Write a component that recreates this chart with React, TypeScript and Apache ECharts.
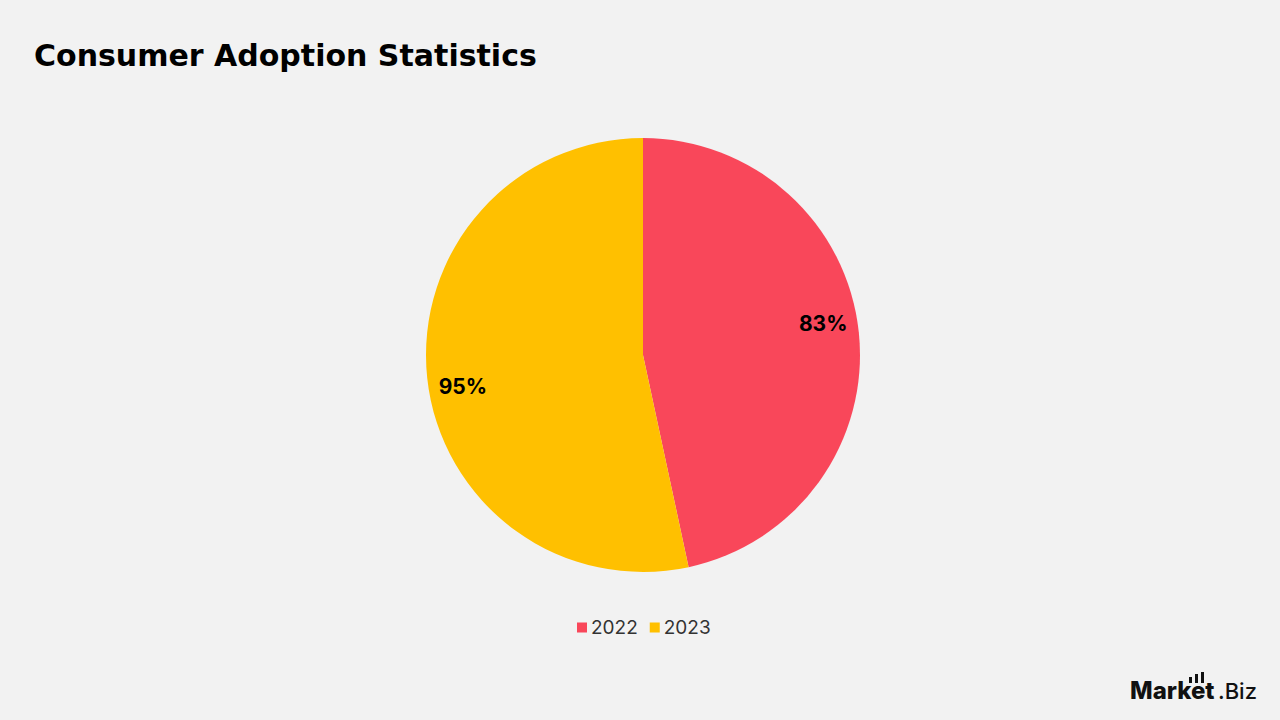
import React, { useEffect, useRef } from "react";
import * as echarts from "echarts";

const categories = ["2022", "2023"];
const values = [83, 95];
const colors = ["#F9475A", "#FFC000"];
const titleText = "Consumer Adoption Statistics";

export default function App() {
  const ref = useRef<HTMLDivElement>(null);
  useEffect(() => {
    if (!ref.current) return;
    const chart = echarts.init(ref.current, null, { renderer: "svg" });
    const data = categories.map((c, i) => ({ name: c, value: values[i], itemStyle: { color: colors[i] } }));
    chart.setOption({
      animation: false,
      backgroundColor: "#F2F2F2",
      title: {
        text: titleText,
        left: 34,
        top: 40,
        padding: 0,
        textStyle: { fontFamily: "DejaVu Sans", fontWeight: "bold", fontSize: 30, color: "#000" },
      },
      legend: {
        data: categories,
        bottom: 83,
        left: 577,
        padding: 0,
        itemWidth: 10,
        itemHeight: 10,
        itemGap: 12,
        icon: "rect",
        textStyle: { fontFamily: "Inter", fontSize: 19, color: "#333", padding: [0, 0, 0, -1] },
      },
      series: [
        {
          type: "pie",
          center: [643, 355],
          radius: 217,
          startAngle: 90,
          clockwise: true,
          label: { show: false },
          labelLine: { show: false },
          emphasis: { disabled: true },
          data,
        },
        {
          type: "pie",
          center: [643, 355],
          radius: [143, 217],
          startAngle: 94,
          clockwise: true,
          silent: true,
          itemStyle: { color: "rgba(0,0,0,0)" },
          label: {
            show: true,
            position: "inside",
            formatter: "{c}%",
            fontFamily: "Inter",
            fontWeight: 700,
            fontSize: 21,
            color: "#000",
          },
          labelLine: { show: false },
          emphasis: { disabled: true },
          legendHoverLink: false,
          data: categories.map((c, i) => ({ name: c + " ", value: values[i] })),
        },
      ],
      graphic: [
        { type: "text", x: 1130, y: 702, style: { text: "Market", fontFamily: "Inter", fontWeight: 800, fontSize: 24, fill: "#111", verticalAlign: "bottom" } },
        { type: "text", x: 1218, y: 702, style: { text: ".Biz", fontFamily: "Inter", fontWeight: 500, fontSize: 22, fill: "#111", verticalAlign: "bottom" } },
        { type: "rect", shape: { x: 1189, y: 677, width: 3, height: 6 }, style: { fill: "#111" } },
        { type: "rect", shape: { x: 1195, y: 674, width: 3, height: 9 }, style: { fill: "#111" } },
        { type: "rect", shape: { x: 1201, y: 672, width: 3, height: 11 }, style: { fill: "#111" } },
      ],
    });
    return () => chart.dispose();
  }, []);
  return <div ref={ref} style={{ position: "fixed", left: 0, top: 0, width: 1280, height: 720 }} />;
}
